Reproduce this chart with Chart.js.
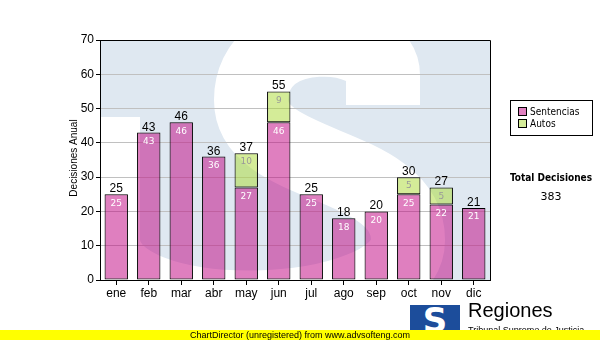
<!DOCTYPE html>
<html>
<head>
<meta charset="utf-8">
<script src="https://cdn.jsdelivr.net/npm/chart.js@4.4.0/dist/chart.umd.min.js"></script>
<style>
  body { margin: 0; background: #fff; }
  #wrap { position: relative; width: 600px; height: 340px; overflow: hidden; }
  #grafico { position: absolute; left: 0; top: 0; }
  .leyenda { position: absolute; left: 510px; top: 100px; width: 81px; height: 34px; border: 1px solid #000; background: #fff;
             font: 10px "DejaVu Sans Condensed", "DejaVu Sans", sans-serif; color: #000; }
  .leyenda div { position: absolute; left: 7px; white-space: nowrap; line-height: 12px; }
  .leyenda span { display: inline-block; width: 7px; height: 7px; border: 1px solid #000; margin-right: 3px; vertical-align: -1px; }
  .total { position: absolute; left: 500px; width: 102px; text-align: center; font: bold 10px "DejaVu Sans Condensed", "DejaVu Sans", sans-serif; }
  .logo { position: absolute; left: 410px; top: 305px; width: 50px; height: 26px; background: #1c4d9b;
          color: #fff; font: bold 34px "DejaVu Sans", sans-serif; line-height: 30px; text-align: center; overflow: hidden; }
  .regiones { position: absolute; left: 468px; top: 299px; font: 20px "Liberation Sans", Arial, sans-serif; color: #000; }
  .tribunal { position: absolute; left: 468px; top: 326px; font: 9px "Liberation Sans", Arial, sans-serif; line-height: 9px; color: #000; white-space: nowrap; }
  .aviso { position: absolute; left: 0; top: 330px; width: 600px; height: 10px; background: #ffff00;
           font: 9px "Liberation Sans", Arial, sans-serif; line-height: 10px; text-align: center; color: #000; }
</style>
</head>
<body>
<div id="wrap">
  <canvas id="grafico" width="600" height="340"></canvas>
  <div class="leyenda">
    <div style="top:5px"><span style="background:#e080c0"></span>Sentencias</div>
    <div style="top:17px"><span style="background:#d4ec98"></span>Autos</div>
  </div>
  <div class="total" style="top:172px">Total Decisiones</div>
  <div class="total" style="top:190px; font: 11px 'DejaVu Sans', sans-serif">383</div>
  <div class="logo">S</div>
  <div class="regiones">Regiones</div>
  <div class="tribunal">Tribunal Supremo de Justicia</div>
  <div class="aviso">ChartDirector (unregistered) from www.advsofteng.com</div>
</div>
<script>
const meses = ['ene', 'feb', 'mar', 'abr', 'may', 'jun', 'jul', 'ago', 'sep', 'oct', 'nov', 'dic'];
const sentencias = [25, 43, 46, 36, 27, 46, 25, 18, 20, 25, 22, 21];
const autos = [0, 0, 0, 0, 10, 9, 0, 0, 0, 5, 5, 0];
const tituloY = 'Decisiones Anual';

const fuente = '"Liberation Sans", Arial, sans-serif';

// fondo azul con la S grande de marca de agua
const fondoPlugin = {
    id: 'fondo',
    beforeDraw(chart) {
        const { ctx, chartArea: a } = chart;
        ctx.save();
        ctx.beginPath();
        ctx.rect(a.left, a.top, a.right - a.left, a.bottom - a.top);
        ctx.clip();
        ctx.fillStyle = '#dfe8f1';
        ctx.fillRect(a.left, a.top, a.right - a.left, a.bottom - a.top);
        // trazo grueso en forma de S
        ctx.strokeStyle = '#ffffff';
        ctx.lineWidth = 74;
        ctx.lineCap = 'butt';
        ctx.beginPath();
        ctx.moveTo(383, 105);
        ctx.lineTo(383, 75);
        ctx.bezierCurveTo(383, 28, 251, 20, 251, 100);
        ctx.bezierCurveTo(251, 170, 408, 160, 408, 240);
        ctx.bezierCurveTo(408, 325, 103, 335, 103, 240);
        ctx.lineTo(103, 117);
        ctx.stroke();
        ctx.restore();
    }
};

// marco, etiquetas de valores y título del eje
const etiquetasPlugin = {
    id: 'etiquetas',
    afterDatasetsDraw(chart) {
        const { ctx, chartArea: a } = chart;
        ctx.save();
        ctx.strokeStyle = '#000';
        ctx.lineWidth = 1;
        ctx.beginPath();
        ctx.moveTo(a.left, a.top + 0.5);
        ctx.lineTo(a.right + 0.5, a.top + 0.5);
        ctx.lineTo(a.right + 0.5, a.bottom);
        ctx.stroke();

        ctx.textAlign = 'center';
        const metaS = chart.getDatasetMeta(0);
        const metaA = chart.getDatasetMeta(1);
        meses.forEach((m, i) => {
            const bs = metaS.data[i];
            ctx.font = '9px "DejaVu Sans"';
            ctx.textBaseline = 'middle';
            ctx.fillStyle = '#ffffff';
            ctx.fillText(String(sentencias[i]), bs.x, bs.y + 9);
            let top = bs.y;
            if (autos[i]) {
                const ba = metaA.data[i];
                ctx.fillStyle = '#999999';
                ctx.fillText(String(autos[i]), ba.x, ba.y + 9);
                top = ba.y;
            }
            ctx.font = '12px ' + fuente;
            ctx.textBaseline = 'alphabetic';
            ctx.fillStyle = '#000';
            ctx.fillText(String(sentencias[i] + autos[i]), bs.x, top - 2);
        });

        ctx.translate(74, 158);
        ctx.rotate(-Math.PI / 2);
        ctx.font = '10px ' + fuente;
        ctx.textAlign = 'center';
        ctx.textBaseline = 'middle';
        ctx.fillText(tituloY, 0, 0);
        ctx.restore();
    }
};

new Chart(document.getElementById('grafico'), {
    type: 'bar',
    data: {
        labels: meses,
        datasets: [{
            label: 'Sentencias',
            data: sentencias,
            backgroundColor: 'rgba(192, 0, 128, 0.5)',
            borderColor: '#000',
            borderWidth: 1,
            borderSkipped: false
        }, {
            label: 'Autos',
            data: autos.map(v => v || null),
            backgroundColor: 'rgba(170, 218, 50, 0.5)',
            borderColor: '#000',
            borderWidth: 1,
            borderSkipped: false
        }]
    },
    options: {
        responsive: false,
        animation: false,
        layout: { padding: { left: 0, top: 40, right: 110, bottom: 30 } },
        datasets: { bar: { barPercentage: 0.72, categoryPercentage: 1 } },
        plugins: {
            legend: { display: false },
            tooltip: { enabled: false }
        },
        scales: {
            x: {
                stacked: true,
                grid: { drawOnChartArea: false, offset: false, tickLength: 5, tickColor: '#000' },
                border: { color: '#000' },
                ticks: { color: '#000', font: { family: fuente, size: 12 }, padding: 1 },
                afterFit(s) { s.height = 30; }
            },
            y: {
                stacked: true,
                min: 0,
                max: 70,
                grid: { color: '#c0c0c0', tickColor: '#000', tickLength: 4 },
                border: { color: '#000' },
                ticks: { stepSize: 10, color: '#000', font: { family: fuente, size: 12 }, padding: 2 },
                afterFit(s) { s.width = 100; }
            }
        }
    },
    plugins: [fondoPlugin, etiquetasPlugin]
});
</script>
</body>
</html>
